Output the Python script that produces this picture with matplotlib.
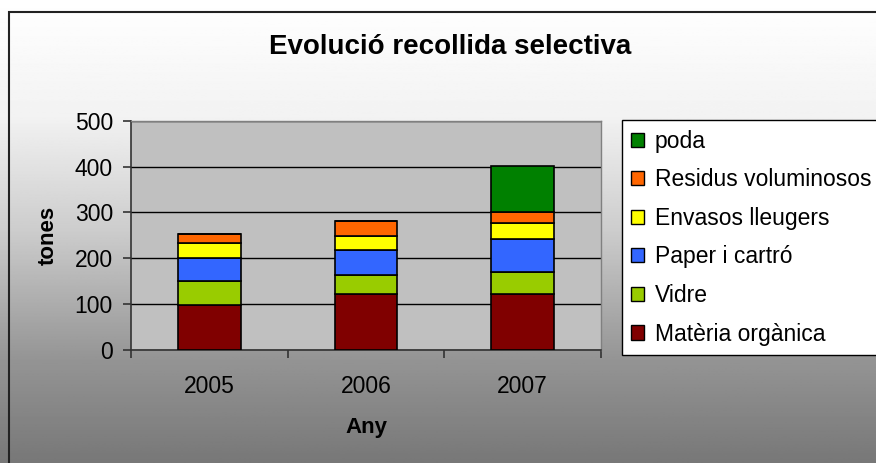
import numpy as np
import matplotlib
matplotlib.use("Agg")
import matplotlib.pyplot as plt
from matplotlib.patches import Rectangle, Patch

plt.rcParams['font.family'] = ['Liberation Sans', 'DejaVu Sans']

# data (tones per year)
anys = ['2005', '2006', '2007']
materia_organica = [98, 123, 123]
vidre = [53, 40, 47]
paper_cartro = [50, 55, 72]
envasos = [33, 31, 35]
residus_voluminosos = [20, 33, 25]
poda = [0, 0, 99]

series = [
    ('Matèria orgànica', materia_organica, '#800000'),
    ('Vidre', vidre, '#99CC00'),
    ('Paper i cartró', paper_cartro, '#3366FF'),
    ('Envasos lleugers', envasos, '#FFFF00'),
    ('Residus voluminosos', residus_voluminosos, '#FF6600'),
    ('poda', poda, '#008000'),
]

W, H = 876, 463
fig = plt.figure(figsize=(W / 100, H / 100), dpi=100)

# gradient background (white at top -> gray at bottom)
bg = fig.add_axes([0, 0, 1, 1], zorder=-10)
ys = np.linspace(0, 1, 300)
stops_y = [0.0, 0.25, 0.5, 0.78, 1.0]
stops_v = [1.0, 0.95, 0.80, 0.58, 0.47]
vals = np.interp(ys, stops_y, stops_v)
grad = np.repeat(vals[:, None], 2, axis=1)
bg.imshow(grad, cmap='gray', vmin=0, vmax=1, aspect='auto', extent=[0, 1, 1, 0])
bg.set_xlim(0, 1)
bg.set_ylim(1, 0)
bg.axis('off')

# outer chart frame (runs off right and bottom edges)
fig.patches.append(Rectangle((9 / W, -0.1), 1.0, 1 - 12 / H + 0.1, transform=fig.transFigure,
                             fill=False, edgecolor='#222222', linewidth=1.5, zorder=5))

ax = fig.add_axes([131 / W, 1 - 350 / H, (601 - 131) / W, (350 - 120.7) / H])
ax.set_facecolor('#C0C0C0')

x = np.arange(len(anys))
bottom = np.zeros(len(anys))
for name, vals_s, col in series:
    v = np.array(vals_s, dtype=float)
    ax.bar(x, v, width=0.4, bottom=bottom, color=col, edgecolor='black', linewidth=1.2, zorder=3)
    bottom += v

ax.set_xlim(-0.5, 2.5)
ax.set_ylim(0, 500)
ax.set_yticks([0, 100, 200, 300, 400, 500])
ax.yaxis.grid(True, color='black', linewidth=1.0, zorder=0)
ax.set_axisbelow(True)

ax.set_xticks(x)
ax.set_xticklabels(anys)
ax.set_xticks([-0.5, 0.5, 1.5, 2.5], minor=True)
ax.tick_params(axis='x', which='major', length=0, pad=18, labelsize=16.5)
ax.tick_params(axis='x', which='minor', length=6, width=1.2, color='#333333', direction='out')
ax.tick_params(axis='y', length=6, width=1.2, color='#333333', direction='out', pad=7, labelsize=16.5)

for s in ['left', 'bottom']:
    ax.spines[s].set_color('#333333')
    ax.spines[s].set_linewidth(1.2)
for s in ['top', 'right']:
    ax.spines[s].set_color('#808080')
    ax.spines[s].set_linewidth(1.0)

fig.text(450 / W, 1 - 47 / H, 'Evolució recollida selectiva', ha='center', va='center',
         fontsize=20, fontweight='bold')
fig.text(48 / W, 1 - 235 / H, 'tones', ha='center', va='center', rotation=90,
         fontsize=16, fontweight='bold')
fig.text(366 / W, 1 - 427 / H, 'Any', ha='center', va='center',
         fontsize=16, fontweight='bold')

handles = [Patch(facecolor=c, edgecolor='black', linewidth=1.0, label=n) for n, _, c in series][::-1]
leg = fig.legend(handles=handles, loc='upper left', bbox_to_anchor=(622 / W, 1 - 120.5 / H),
                 frameon=True, fancybox=False, edgecolor='black', framealpha=1,
                 fontsize=16.5, handlelength=0.57, handleheight=0.57, handletextpad=0.45,
                 labelspacing=0.68, borderpad=0.4, borderaxespad=0)
leg.get_frame().set_linewidth(1.0)

fig.savefig('out.png', dpi=100)
